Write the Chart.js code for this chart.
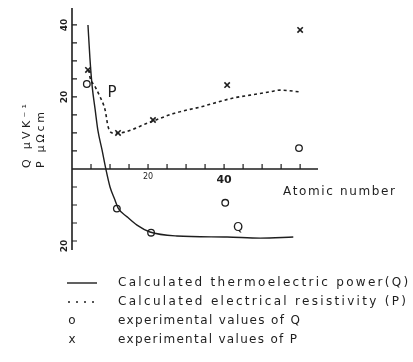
<!DOCTYPE html>
<html>
<head>
<meta charset="utf-8">
<script src="https://cdn.jsdelivr.net/npm/chart.js@4.4.0/dist/chart.umd.min.js"></script>
<style>
  html, body { margin: 0; padding: 0; background: #fff; }
  #wrap { width: 413px; height: 362px; }
</style>
</head>
<body>
<div id="wrap"><canvas id="chart" width="413" height="362"></canvas></div>
<script>
// calculated thermoelectric power Q (solid curve)
const qCalcZ   = [4.2, 4.7, 5.3, 6.1, 6.8, 7.9, 8.9, 10.0, 11.3, 12.1, 14.5, 17.1, 20.5, 27.6, 40.8, 49.5, 58.2];
const qCalcVal = [40, 31, 23, 16.4, 10.8, 5.3, 0, -5.0, -8.6, -10.8, -13.3, -15.6, -17.5, -18.6, -18.9, -19.2, -18.9];

// calculated electrical resistivity P (dotted curve)
const pCalcZ   = [4.4, 4.7, 6.1, 7.4, 8.7, 9.5, 10.8, 12.1, 20.5, 27.0, 33.7, 42.4, 46.8, 52.0, 54.7, 60.0];
const pCalcVal = [27.5, 25.6, 22.8, 20.0, 16.4, 11.7, 10.0, 10.0, 13.0, 15.5, 17.2, 19.7, 20.5, 21.4, 21.9, 21.4];

// experimental values
const qExpZ   = [3.9, 11.8, 20.8, 40.3, 59.7];
const qExpVal = [23.6, -11.0, -17.7, -9.4, 5.8];
const pExpZ   = [4.2, 12.1, 21.3, 40.8, 60.0];
const pExpVal = [27.5, 10.0, 13.6, 23.3, 38.6];

// labelled ticks
const xLabelValues = [20, 40];
const xLabelTexts  = ['20', '40'];
const yLabelValues = [40, 20, -20];
const yLabelTexts  = ['40', '20', '20'];

const legendTexts = [
    'Calculated thermoelectric power(Q)',
    'Calculated electrical resistivity (P)',
    'experimental values of Q',
    'experimental values of P'
];

const ink = '#1e1e1e';
const hand = '"DejaVu Sans", sans-serif';

const toPoints = (xs, ys) => xs.map((x, i) => ({ x: x, y: ys[i] }));

function fitText(ctx, text, x, y, width) {
    ctx.letterSpacing = '0px';
    const w = ctx.measureText(text).width;
    const extra = (width - w) / Math.max(text.length - 1, 1);
    ctx.letterSpacing = extra.toFixed(2) + 'px';
    ctx.fillText(text, x, y);
    ctx.letterSpacing = '0px';
}

const sketchPlugin = {
    id: 'sketch',
    afterDraw(chart) {
        const ctx = chart.ctx;
        const xs = chart.scales.x;
        const ys = chart.scales.y;
        const x0 = xs.getPixelForValue(0);
        const y0 = ys.getPixelForValue(0);
        ctx.save();
        ctx.strokeStyle = ink;
        ctx.fillStyle = ink;

        // axes
        ctx.lineWidth = 1.6;
        ctx.beginPath();
        ctx.moveTo(x0, ys.getPixelForValue(ys.max));
        ctx.lineTo(x0, ys.getPixelForValue(ys.min));
        ctx.moveTo(x0, y0);
        ctx.lineTo(xs.getPixelForValue(xs.max), y0);
        ctx.stroke();

        // ticks, pointing into the plot
        ctx.lineWidth = 1.2;
        ctx.beginPath();
        for (let v = 5; v <= 60; v += 5) {
            const px = xs.getPixelForValue(v);
            ctx.moveTo(px, y0);
            ctx.lineTo(px, y0 - 5);
        }
        for (let v = -20; v <= 40; v += 5) {
            if (v === 0) continue;
            const py = ys.getPixelForValue(v);
            ctx.moveTo(x0, py);
            ctx.lineTo(x0 + 5, py);
        }
        ctx.stroke();

        // x tick labels
        ctx.textAlign = 'center';
        ctx.textBaseline = 'middle';
        xLabelValues.forEach((v, i) => {
            ctx.font = (v === 40 ? 'bold 11px ' : '8px ') + hand;
            ctx.fillText(xLabelTexts[i], xs.getPixelForValue(v), y0 + (v === 40 ? 11 : 8));
        });

        // y tick labels, rotated
        ctx.font = 'bold 9px ' + hand;
        yLabelValues.forEach((v, i) => {
            ctx.save();
            ctx.translate(x0 - 7, ys.getPixelForValue(v) + (v < 0 ? 5 : 0));
            ctx.rotate(-Math.PI / 2);
            ctx.fillText(yLabelTexts[i], 0, 0);
            ctx.restore();
        });

        // y axis title
        ctx.font = '11px ' + hand;
        ctx.textAlign = 'left';
        ctx.save();
        ctx.translate(27, 168);
        ctx.rotate(-Math.PI / 2);
        fitText(ctx, 'Q μVK⁻¹', 0, 0, 64);
        ctx.restore();
        ctx.save();
        ctx.translate(41, 168);
        ctx.rotate(-Math.PI / 2);
        fitText(ctx, 'P μΩcm', 0, 0, 56);
        ctx.restore();

        // curve labels
        ctx.textAlign = 'center';
        ctx.font = '15px ' + hand;
        ctx.fillText('P', 112, 93);
        ctx.font = '13px ' + hand;
        ctx.fillText('Q', 238, 228);

        // x axis title
        ctx.textAlign = 'left';
        ctx.font = '12px ' + hand;
        fitText(ctx, 'Atomic number', 283, 192, 112);

        // legend
        const rows = [283, 302, 321, 340];
        const widths = [290, 288, 182, 179];
        ctx.lineWidth = 1.4;
        ctx.beginPath();
        ctx.moveTo(67, rows[0]);
        ctx.lineTo(97, rows[0]);
        ctx.stroke();
        ctx.setLineDash([2, 6]);
        ctx.lineWidth = 1.6;
        ctx.beginPath();
        ctx.moveTo(68, rows[1]);
        ctx.lineTo(98, rows[1]);
        ctx.stroke();
        ctx.setLineDash([]);
        ctx.font = '12px ' + hand;
        ctx.textAlign = 'center';
        ctx.fillText('o', 72, rows[2]);
        ctx.fillText('x', 72, rows[3]);
        ctx.textAlign = 'left';
        legendTexts.forEach((t, i) => fitText(ctx, t, 118, rows[i], widths[i]));

        ctx.restore();
    }
};

new Chart(document.getElementById('chart'), {
    type: 'line',
    data: {
        datasets: [
            {
                label: 'Calculated Q',
                data: toPoints(qCalcZ, qCalcVal),
                borderColor: ink,
                borderWidth: 1.4,
                pointRadius: 0,
                cubicInterpolationMode: 'monotone',
                fill: false
            },
            {
                label: 'Calculated P',
                data: toPoints(pCalcZ, pCalcVal),
                borderColor: ink,
                borderWidth: 1.6,
                borderDash: [3, 3],
                pointRadius: 0,
                cubicInterpolationMode: 'monotone',
                fill: false
            },
            {
                label: 'Experimental Q',
                data: toPoints(qExpZ, qExpVal),
                showLine: false,
                pointStyle: 'circle',
                pointRadius: 3.3,
                pointBorderWidth: 1.3,
                pointBorderColor: ink,
                pointBackgroundColor: '#fff'
            },
            {
                label: 'Experimental P',
                data: toPoints(pExpZ, pExpVal),
                showLine: false,
                pointStyle: 'crossRot',
                pointRadius: 3.8,
                pointBorderWidth: 1.6,
                pointBorderColor: ink
            }
        ]
    },
    options: {
        responsive: false,
        animation: false,
        devicePixelRatio: 1,
        layout: { padding: { left: 72, top: 8, right: 95, bottom: 112 } },
        plugins: {
            legend: { display: false },
            tooltip: { enabled: false }
        },
        scales: {
            x: { type: 'linear', min: 0, max: 64.7, display: false },
            y: { type: 'linear', min: -22.5, max: 44.7, display: false }
        }
    },
    plugins: [sketchPlugin]
});
</script>
</body>
</html>
